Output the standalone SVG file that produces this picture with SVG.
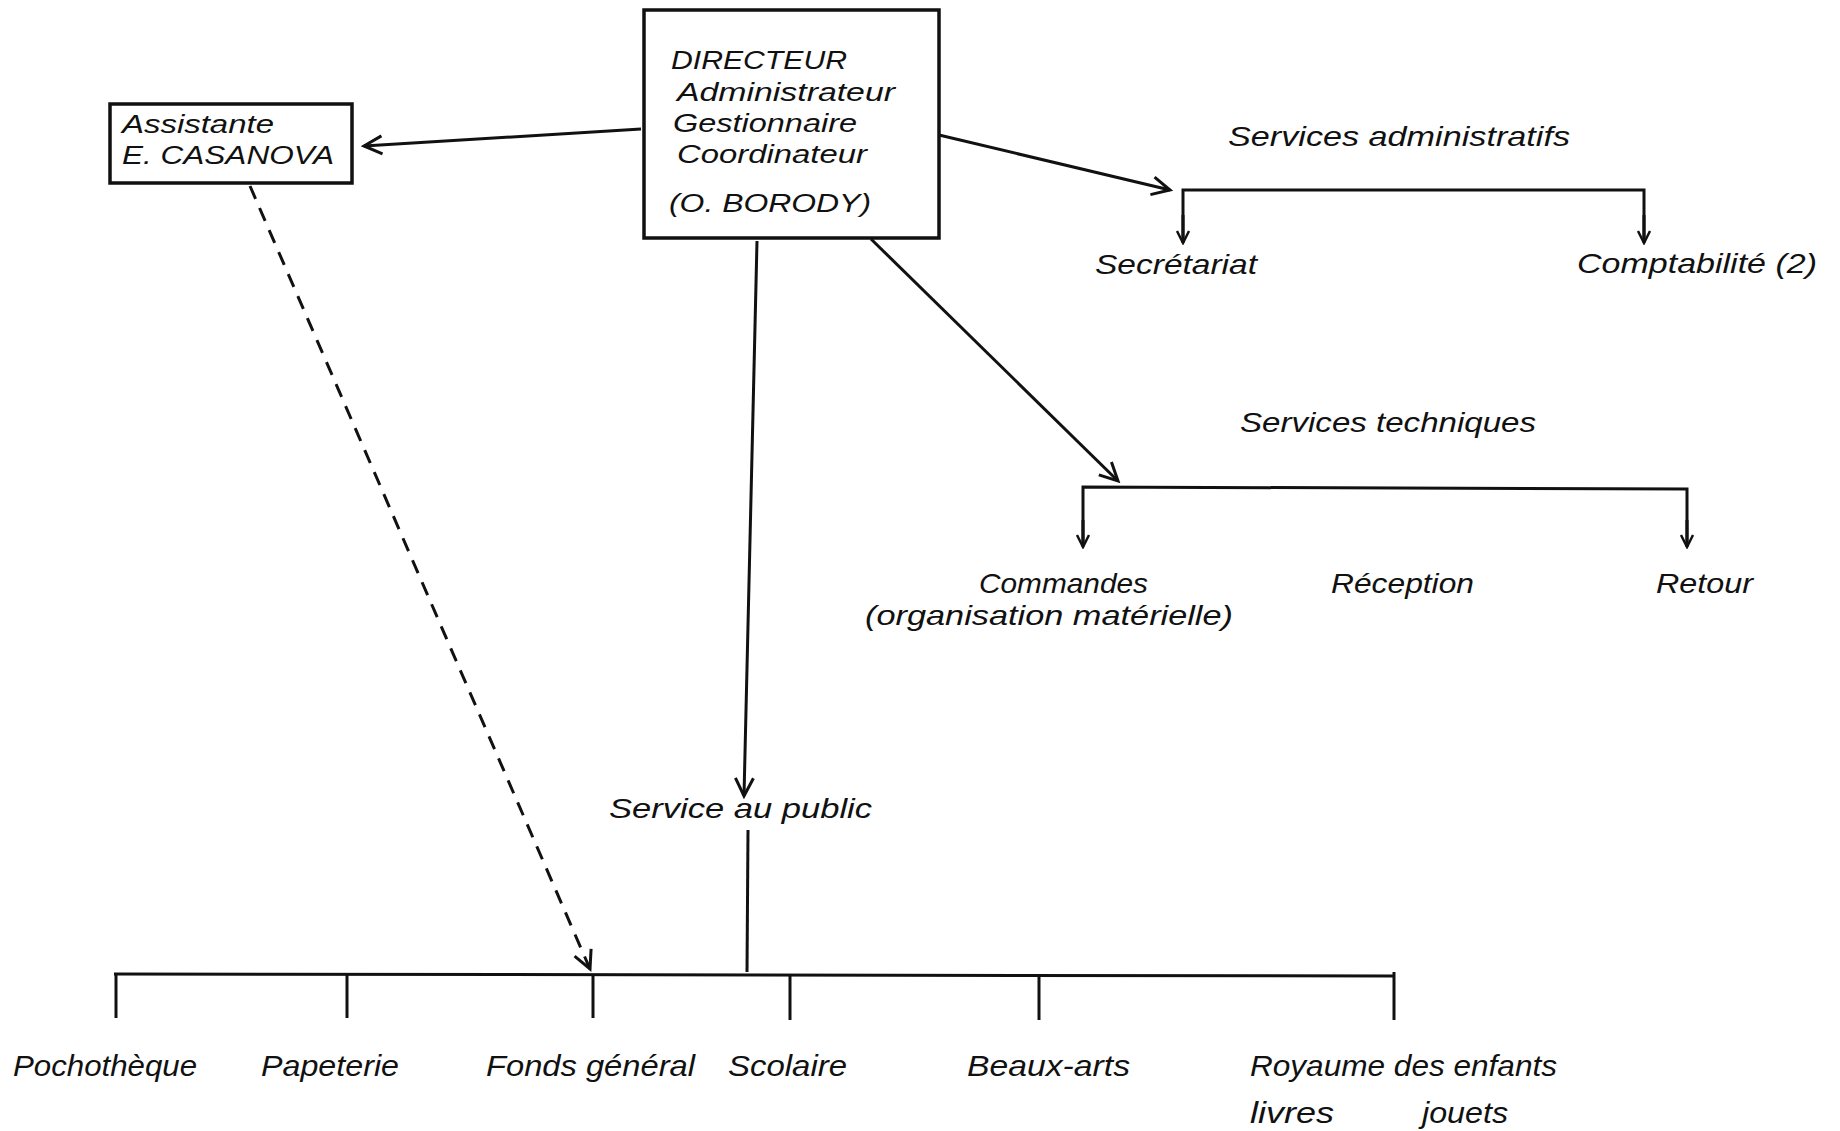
<svg xmlns="http://www.w3.org/2000/svg" width="1840" height="1131" viewBox="0 0 1840 1131">
<style>
text{font-family:"Liberation Sans",Arial,sans-serif;font-style:italic;fill:#111;}
.t{font-size:28px;}
.b{font-size:30px;}
.n{font-size:26px;}
.box{fill:#fff;stroke:#111;stroke-width:3.5;}
.ln{fill:none;stroke:#111;stroke-width:3;}
.ds{fill:none;stroke:#111;stroke-width:3;stroke-dasharray:14 10;}
</style>
<defs>
<marker id="big" viewBox="0 0 24 24" refX="21" refY="12" markerWidth="24" markerHeight="24" orient="auto" markerUnits="userSpaceOnUse">
<path d="M3,3 L21,12 L3,21" fill="none" stroke="#111" stroke-width="3"/>
</marker>
<marker id="sm" viewBox="0 0 16 16" refX="14" refY="8" markerWidth="16" markerHeight="16" orient="auto" markerUnits="userSpaceOnUse">
<path d="M2,2 L14,8 L2,14" fill="none" stroke="#111" stroke-width="2.5"/>
</marker>
</defs>
<rect width="1840" height="1131" fill="#fff"/>
<g id="connectors">
<line class="ln" x1="641" y1="129" x2="364" y2="146" marker-end="url(#big)"/>
<line class="ds" x1="250" y1="186" x2="590" y2="969" marker-end="url(#big)"/>
<line class="ln" x1="939" y1="135" x2="1170" y2="190" marker-end="url(#big)"/>
<path class="ln" d="M1183,241 L1183,190 L1644,190 L1644,241"/>
<line class="ln" x1="1183" y1="215" x2="1183" y2="243" marker-end="url(#sm)"/>
<line class="ln" x1="1644" y1="215" x2="1644" y2="243" marker-end="url(#sm)"/>
<line class="ln" x1="871" y1="239" x2="1118" y2="481" marker-end="url(#big)"/>
<path class="ln" d="M1083,546 L1083,487 L1687,489 L1687,546"/>
<line class="ln" x1="1083" y1="520" x2="1083" y2="547" marker-end="url(#sm)"/>
<line class="ln" x1="1687" y1="520" x2="1687" y2="547" marker-end="url(#sm)"/>
<line class="ln" x1="757" y1="241" x2="744" y2="796" marker-end="url(#big)"/>
<line class="ln" x1="748" y1="830" x2="747" y2="972"/>
<line class="ln" x1="114" y1="974" x2="1394" y2="976"/>
<line class="ln" x1="116" y1="974" x2="116" y2="1018"/>
<line class="ln" x1="347" y1="974" x2="347" y2="1018"/>
<line class="ln" x1="593" y1="975" x2="593" y2="1018"/>
<line class="ln" x1="790" y1="975" x2="790" y2="1020"/>
<line class="ln" x1="1039" y1="975" x2="1039" y2="1020"/>
<line class="ln" x1="1394" y1="972" x2="1394" y2="1020"/>
</g>
<g id="directeur">
<rect class="box" x="644" y="10" width="295" height="228"/>
<text class="n" x="671" y="69" textLength="176" lengthAdjust="spacingAndGlyphs">DIRECTEUR</text>
<text class="n" x="677" y="101" textLength="218" lengthAdjust="spacingAndGlyphs">Administrateur</text>
<text class="n" x="673" y="132" textLength="184" lengthAdjust="spacingAndGlyphs">Gestionnaire</text>
<text class="n" x="677" y="163" textLength="190" lengthAdjust="spacingAndGlyphs">Coordinateur</text>
<text class="n" x="669" y="212" textLength="202" lengthAdjust="spacingAndGlyphs">(O. BORODY)</text>
</g>
<g id="assistante">
<rect class="box" x="110" y="104" width="242" height="79"/>
<text class="n" x="122" y="133" textLength="152" lengthAdjust="spacingAndGlyphs">Assistante</text>
<text class="n" x="122" y="164" textLength="212" lengthAdjust="spacingAndGlyphs">E. CASANOVA</text>
</g>
<g id="services-administratifs">
<text class="t" x="1228" y="146" textLength="342" lengthAdjust="spacingAndGlyphs">Services administratifs</text>
</g>
<g id="secretariat">
<text class="t" x="1095" y="274" textLength="162" lengthAdjust="spacingAndGlyphs">Secrétariat</text>
</g>
<g id="comptabilite">
<text class="t" x="1577" y="273" textLength="240" lengthAdjust="spacingAndGlyphs">Comptabilité (2)</text>
</g>
<g id="services-techniques">
<text class="t" x="1240" y="432" textLength="296" lengthAdjust="spacingAndGlyphs">Services techniques</text>
</g>
<g id="commandes">
<text class="t" x="979" y="593" textLength="169" lengthAdjust="spacingAndGlyphs">Commandes</text>
<text class="t" x="865" y="625" textLength="368" lengthAdjust="spacingAndGlyphs">(organisation matérielle)</text>
</g>
<g id="reception">
<text class="t" x="1331" y="593" textLength="143" lengthAdjust="spacingAndGlyphs">Réception</text>
</g>
<g id="retour">
<text class="t" x="1656" y="593" textLength="97" lengthAdjust="spacingAndGlyphs">Retour</text>
</g>
<g id="service-public">
<text class="t" x="609" y="818" textLength="263" lengthAdjust="spacingAndGlyphs">Service au public</text>
</g>
<g id="pochotheque"><text class="b" x="13" y="1076" textLength="184" lengthAdjust="spacingAndGlyphs">Pochothèque</text></g>
<g id="papeterie"><text class="b" x="261" y="1076" textLength="138" lengthAdjust="spacingAndGlyphs">Papeterie</text></g>
<g id="fonds-general"><text class="b" x="486" y="1076" textLength="209" lengthAdjust="spacingAndGlyphs">Fonds général</text></g>
<g id="scolaire"><text class="b" x="728" y="1076" textLength="119" lengthAdjust="spacingAndGlyphs">Scolaire</text></g>
<g id="beaux-arts"><text class="b" x="967" y="1076" textLength="163" lengthAdjust="spacingAndGlyphs">Beaux-arts</text></g>
<g id="royaume">
<text class="b" x="1250" y="1076" textLength="307" lengthAdjust="spacingAndGlyphs">Royaume des enfants</text>
<text class="b" x="1250" y="1123" textLength="84" lengthAdjust="spacingAndGlyphs">livres</text>
<text class="b" x="1422" y="1123" textLength="86" lengthAdjust="spacingAndGlyphs">jouets</text>
</g>
</svg>
